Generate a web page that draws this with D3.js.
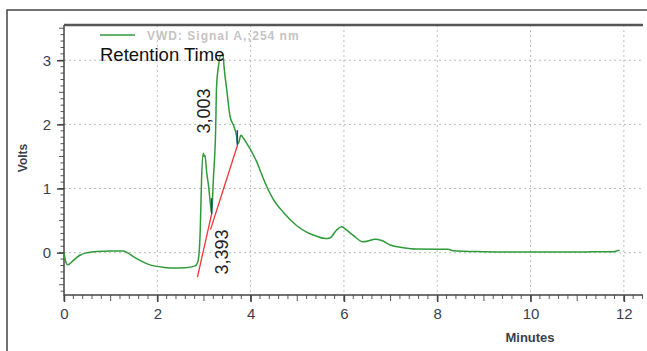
<!DOCTYPE html>
<html>
<head>
<meta charset="utf-8">
<style>
  body { margin: 0; background: #fff; }
  svg { display: block; font-family: "Liberation Sans", Arial, sans-serif; }
</style>
</head>
<body>
<script src="https://cdn.jsdelivr.net/npm/d3@7/dist/d3.min.js"></script>
<script>
// signal (minutes, volts)
var minutes = [0, 0.03, 0.08, 0.2, 0.34, 0.5, 0.7, 1.0, 1.27, 1.4, 1.55, 1.77, 1.95, 2.15, 2.4, 2.6, 2.8, 2.86,
  2.89, 2.92, 2.95, 2.985, 3.0, 3.02, 3.06, 3.10, 3.13, 3.15, 3.165, 3.20, 3.25, 3.27, 3.31, 3.36, 3.41, 3.43,
  3.49, 3.56, 3.63, 3.70, 3.72, 3.745, 3.79, 3.85, 3.92, 3.99, 4.06, 4.13, 4.2, 4.34, 4.48, 4.70, 4.99, 5.2,
  5.4, 5.6, 5.7, 5.84, 5.95, 6.06, 6.2, 6.41, 6.55, 6.66, 6.81, 6.99, 7.27, 7.56, 8.0, 8.23, 8.34, 8.98, 9.77,
  10.5, 11.2, 11.77, 11.91];
var volts = [0, -0.12, -0.19, -0.12, -0.04, 0.0, 0.02, 0.025, 0.025, -0.02, -0.09, -0.17, -0.21, -0.23, -0.24,
  -0.235, -0.21, -0.16, -0.05, 0.35, 1.18, 1.55, 1.50, 1.52, 1.24, 1.03, 0.82, 0.68, 0.614, 1.13, 1.91, 2.59,
  2.90, 3.08, 3.08, 2.90, 2.53, 2.12, 1.99, 1.81, 1.70, 1.72, 1.83, 1.78, 1.70, 1.62, 1.52, 1.42, 1.29, 1.04,
  0.84, 0.63, 0.42, 0.32, 0.26, 0.22, 0.23, 0.35, 0.405, 0.35, 0.27, 0.17, 0.19, 0.21, 0.19, 0.12, 0.078,
  0.057, 0.055, 0.055, 0.03, 0.016, 0.01, 0.01, 0.012, 0.016, 0.04];

// integration baselines and markers
var baseline1 = [[2.86, -0.38], [3.17, 0.62]];
var baseline2 = [[3.14, 0.36], [3.72, 1.68]];
var markers = [[3.165, 0.61, 0.85], [3.715, 1.68, 1.91]];
var peakLabels = [{ text: "3,003", t: 3.0, v: 2.21 }, { text: "3,393", t: 3.38, v: 0.01 }];

var xTicks = [0, 2, 4, 6, 8, 10, 12];
var yTicks = [0, 1, 2, 3];

var width = 647, height = 351;
var pad = { left: 64, right: 643, top: 25, bottom: 295 };

var svg = d3.select("body").append("svg")
  .attr("width", width)
  .attr("height", height);

var x = d3.scaleLinear().domain([0, 12.41]).range([pad.left, pad.right]);
var y = d3.scaleLinear().domain([-0.66, 3.55]).range([pad.bottom, pad.top]);

// outer frame
svg.append("path")
  .attr("d", "M7," + height + "V10H" + width)
  .attr("fill", "none").attr("stroke", "#444").attr("stroke-width", 1.5);

// grid
svg.selectAll(".vgrid").data(xTicks.slice(1)).enter().append("line")
  .attr("x1", function(d) { return x(d); }).attr("x2", function(d) { return x(d); })
  .attr("y1", pad.top).attr("y2", pad.bottom)
  .attr("stroke", "#bbb").attr("stroke-dasharray", "2,3");
svg.selectAll(".hgrid").data(yTicks).enter().append("line")
  .attr("x1", pad.left).attr("x2", pad.right)
  .attr("y1", function(d) { return y(d); }).attr("y2", function(d) { return y(d); })
  .attr("stroke", "#bbb").attr("stroke-dasharray", "2,3");

// minor ticks
var xMinor = d3.range(0, 12.41, 0.2);
svg.selectAll(".xminor").data(xMinor).enter().append("line")
  .attr("x1", function(d) { return x(d); }).attr("x2", function(d) { return x(d); })
  .attr("y1", pad.bottom)
  .attr("y2", function(d) { return Math.abs(d - Math.round(d)) < 0.01 ? pad.bottom + 6 : pad.bottom + 4; })
  .attr("stroke", "#555");
var yMinor = d3.range(-0.6, 3.55, 0.1);
svg.selectAll(".yminor").data(yMinor).enter().append("line")
  .attr("y1", function(d) { return y(d); }).attr("y2", function(d) { return y(d); })
  .attr("x1", pad.left)
  .attr("x2", function(d) { return Math.abs(d * 2 - Math.round(d * 2)) < 0.01 ? pad.left - 5 : pad.left - 3.5; })
  .attr("stroke", "#555");

// axes
var xAxis = svg.append("g").attr("transform", "translate(0," + pad.bottom + ")")
  .call(d3.axisBottom(x).tickValues(xTicks).tickSize(7).tickPadding(6).tickFormat(d3.format("d")));
var yAxis = svg.append("g").attr("transform", "translate(" + pad.left + ",0)")
  .call(d3.axisLeft(y).tickValues(yTicks).tickSize(7).tickPadding(6).tickFormat(d3.format("d")));
[xAxis, yAxis].forEach(function(a) {
  a.select(".domain").remove();
  a.selectAll(".tick line").attr("stroke", "#444").attr("stroke-width", 1.5);
  a.selectAll(".tick text").attr("font-size", 15).attr("fill", "#3a3f50")
    .attr("font-family", "Liberation Sans, Arial, sans-serif");
});

svg.append("path")
  .attr("d", "M" + pad.left + "," + pad.top + "V" + pad.bottom + "H" + pad.right)
  .attr("fill", "none").attr("stroke", "#444").attr("stroke-width", 1.5);
svg.append("line")
  .attr("x1", pad.left).attr("x2", pad.right).attr("y1", pad.top).attr("y2", pad.top)
  .attr("stroke", "#555").attr("stroke-width", 2.5);

// signal
var line = d3.line()
  .x(function(d) { return x(d[0]); })
  .y(function(d) { return y(d[1]); })
  .curve(d3.curveMonotoneX);
svg.append("path")
  .datum(d3.zip(minutes, volts))
  .attr("d", line)
  .attr("fill", "none").attr("stroke", "#2f9a3a").attr("stroke-width", 1.5);

// baselines
[baseline1, baseline2].forEach(function(b) {
  svg.append("line")
    .attr("x1", x(b[0][0])).attr("y1", y(b[0][1]))
    .attr("x2", x(b[1][0])).attr("y2", y(b[1][1]))
    .attr("stroke", "#f03535").attr("stroke-width", 1.3);
});
svg.selectAll(".mark").data(markers).enter().append("line")
  .attr("x1", function(d) { return x(d[0]); }).attr("x2", function(d) { return x(d[0]); })
  .attr("y1", function(d) { return y(d[1]); }).attr("y2", function(d) { return y(d[2]); })
  .attr("stroke", "#2b3a9a").attr("stroke-width", 1.5);

// peak labels
svg.selectAll(".plabel").data(peakLabels).enter().append("text")
  .attr("transform", function(d) { return "translate(" + x(d.t) + "," + y(d.v) + ") rotate(-90)"; })
  .attr("text-anchor", "middle").attr("dy", "0.35em")
  .attr("font-size", 18).attr("fill", "#222")
  .text(function(d) { return d.text; });

// legend
svg.append("line")
  .attr("x1", 100).attr("x2", 135).attr("y1", 35).attr("y2", 35)
  .attr("stroke", "#2f9a3a").attr("stroke-width", 1.5);
svg.append("text")
  .attr("x", 147).attr("y", 40)
  .attr("font-size", 12).attr("font-weight", "bold").attr("letter-spacing", 1)
  .attr("fill", "#c4c4c4")
  .text("VWD: Signal A,;254 nm");
svg.append("text")
  .attr("x", 100).attr("y", 61)
  .attr("font-size", 18.5).attr("fill", "#111")
  .text("Retention Time");

// axis titles
svg.append("text")
  .attr("transform", "translate(27,158) rotate(-90)")
  .attr("text-anchor", "middle")
  .attr("font-size", 12).attr("font-weight", "bold").attr("fill", "#3a3f50")
  .text("Volts");
svg.append("text")
  .attr("x", 530).attr("y", 342)
  .attr("text-anchor", "middle")
  .attr("font-size", 13).attr("font-weight", "bold").attr("fill", "#3a3f50")
  .text("Minutes");
</script>
</body>
</html>
